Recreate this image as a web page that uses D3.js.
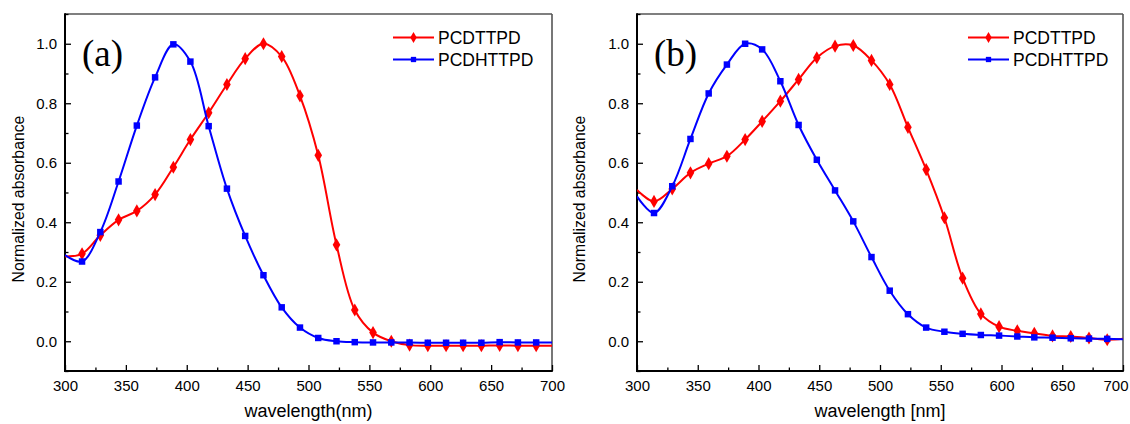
<!DOCTYPE html>
<html>
<head>
<meta charset="utf-8">
<script src="https://cdn.jsdelivr.net/npm/d3@7"></script>
<style>
  html, body { margin: 0; padding: 0; background: #fff; }
  svg { display: block; }
  text { font-family: Arial, "Liberation Sans", sans-serif; fill: #000; }
</style>
</head>
<body>
<svg id="chart" width="1130" height="424"></svg>
<script>
// Wavelengths (nm) at which the symbols are placed along each spectrum
const wavelengths = [314, 329, 344, 359, 374, 389, 403, 418, 433, 448, 463, 478, 493,
                     508, 523, 538, 553, 568, 583, 598, 613, 627, 642, 657, 672, 687];
// Spectrum end points (the traces run the full 300–700 nm window)
const edgeWavelengths = [300, 700];

// (a) normalized absorbance
const pcdttpdA  = [0.294, 0.356, 0.408, 0.438, 0.493, 0.585, 0.678, 0.768, 0.863, 0.950, 1.000, 0.957, 0.825,
                   0.625, 0.324, 0.105, 0.029, 0.000, -0.013, -0.015, -0.015, -0.015, -0.015, -0.014, -0.015, -0.015];
const pcdttpdAEdges = [0.285, -0.015];
const pcdhttpdA = [0.268, 0.367, 0.537, 0.725, 0.887, 0.998, 0.940, 0.723, 0.513, 0.354, 0.222, 0.114, 0.046,
                   0.011, 0.000, -0.003, -0.004, -0.004, -0.004, -0.005, -0.005, -0.005, -0.005, -0.003, -0.004, -0.004];
const pcdhttpdAEdges = [0.290, -0.004];

// (b) normalized absorbance
const pcdttpdB  = [0.470, 0.512, 0.566, 0.597, 0.622, 0.678, 0.739, 0.807, 0.880, 0.953, 0.992, 0.994, 0.944,
                   0.863, 0.719, 0.577, 0.415, 0.212, 0.092, 0.049, 0.035, 0.027, 0.018, 0.016, 0.011, 0.005];
const pcdttpdBEdges = [0.509, 0.008];
const pcdhttpdB = [0.431, 0.521, 0.680, 0.833, 0.930, 1.000, 0.981, 0.874, 0.727, 0.610, 0.507, 0.403, 0.283,
                   0.170, 0.091, 0.046, 0.032, 0.025, 0.021, 0.019, 0.016, 0.013, 0.012, 0.010, 0.009, 0.008];
const pcdhttpdBEdges = [0.487, 0.007];

const seriesNames = ["PCDTTPD", "PCDHTTPD"];
const seriesColors = ["#ff0000", "#0000ff"];
const seriesSymbols = [d3.symbolDiamond, d3.symbolSquare];

const xDomain = [300, 700];
const yDomain = [-0.1, 1.1];
const xMajorTicks = [300, 350, 400, 450, 500, 550, 600, 650, 700];
const xMinorTicks = [325, 375, 425, 475, 525, 575, 625, 675];
const yMajorTicks = [0.0, 0.2, 0.4, 0.6, 0.8, 1.0];
const yMinorTicks = [-0.1, 0.1, 0.3, 0.5, 0.7, 0.9, 1.1];

const panels = [
  { tag: "(a)", xTitle: "wavelength(nm)", left: 65, right: 552,
    series: [[pcdttpdA, pcdttpdAEdges], [pcdhttpdA, pcdhttpdAEdges]],
    legendX: 393, yTitleX: 18 },
  { tag: "(b)", xTitle: "wavelength [nm]", left: 637, right: 1123,
    series: [[pcdttpdB, pcdttpdBEdges], [pcdhttpdB, pcdhttpdBEdges]],
    legendX: 968, yTitleX: 579 }
];

const svg = d3.select("#chart");
const plotTop = 14, plotBottom = 371, pageWidth = 1130;

panels.forEach(p => {
  const x = d3.scaleLinear().domain(xDomain).range([p.left, p.right]);
  const y = d3.scaleLinear().domain(yDomain).range([plotBottom, plotTop]);
  const g = svg.append("g");

  // plot area frame: grey top/right, black left/bottom
  g.append("line").attr("x1", p.left).attr("x2", p.right).attr("y1", plotTop).attr("y2", plotTop)
    .attr("stroke", "#555").attr("stroke-width", 1.6);
  g.append("line").attr("x1", p.right).attr("x2", p.right).attr("y1", plotTop).attr("y2", plotBottom)
    .attr("stroke", "#555").attr("stroke-width", 1.6);

  // x axis (inward ticks)
  const xAxis = g.append("g").attr("transform", `translate(0,${plotBottom})`)
    .call(d3.axisBottom(x).tickValues(xMajorTicks).tickSize(-6).tickPadding(9).tickFormat(d3.format("d")));
  g.append("g").attr("transform", `translate(0,${plotBottom})`)
    .call(d3.axisBottom(x).tickValues(xMinorTicks).tickSize(-3.5).tickFormat(""))
    .call(s => s.select(".domain").remove());
  xAxis.select(".domain").remove();
  xAxis.selectAll("text").attr("font-size", 15).attr("fill", "#000")
    .style("font-family", "Arial, 'Liberation Sans', sans-serif");
  // keep the last label inside the page
  xAxis.selectAll("text").each(function () {
    const t = d3.select(this);
    const box = this.getBBox();
    const tickX = x(+t.datum());
    const overflow = tickX + box.width / 2 - (pageWidth - 2);
    if (overflow > 0) t.attr("x", -overflow);
  });

  // y axis (inward ticks)
  const yAxis = g.append("g").attr("transform", `translate(${p.left},0)`)
    .call(d3.axisLeft(y).tickValues(yMajorTicks).tickSize(-6).tickPadding(8).tickFormat(d3.format(".1f")));
  g.append("g").attr("transform", `translate(${p.left},0)`)
    .call(d3.axisLeft(y).tickValues(yMinorTicks).tickSize(-3.5).tickFormat(""))
    .call(s => s.select(".domain").remove());
  yAxis.select(".domain").remove();
  yAxis.selectAll("text").attr("font-size", 15).attr("fill", "#000")
    .style("font-family", "Arial, 'Liberation Sans', sans-serif");
  g.selectAll(".tick line").attr("stroke", "#000").attr("stroke-width", 1.3);

  g.append("line").attr("x1", p.left).attr("x2", p.left).attr("y1", plotTop - 0.8).attr("y2", plotBottom + 1)
    .attr("stroke", "#000").attr("stroke-width", 2);
  g.append("line").attr("x1", p.left - 1).attr("x2", p.right + 0.8).attr("y1", plotBottom).attr("y2", plotBottom)
    .attr("stroke", "#000").attr("stroke-width", 2);

  // axis titles
  g.append("text").attr("x", (p.left + p.right) / 2).attr("y", 417)
    .attr("text-anchor", "middle").attr("font-size", 18).text(p.xTitle);
  g.append("text").attr("transform", `translate(${p.yTitleX},199) rotate(-90)`)
    .attr("text-anchor", "middle").attr("dy", "0.35em").attr("font-size", 15.8).text("Normalized absorbance");

  // panel tag
  g.append("text").attr("x", p.left + 17).attr("y", 66)
    .style("font-family", "'Times New Roman', 'Liberation Serif', serif")
    .attr("font-size", 37).text(p.tag);

  // spectra
  const clip = "clip" + p.tag.replace(/\W/g, "");
  svg.append("clipPath").attr("id", clip).append("rect")
    .attr("x", p.left).attr("y", plotTop).attr("width", p.right - p.left).attr("height", plotBottom - plotTop);
  const line = d3.line().x(d => x(d[0])).y(d => y(d[1])).curve(d3.curveCatmullRom.alpha(0.5));

  p.series.forEach(([vals, edges], i) => {
    const pts = wavelengths.map((w, k) => [w, vals[k]]);
    const full = [[edgeWavelengths[0], edges[0]], ...pts, [edgeWavelengths[1], edges[1]]];
    const sg = g.append("g").attr("clip-path", `url(#${clip})`);
    sg.append("path").datum(full).attr("d", line)
      .attr("fill", "none").attr("stroke", seriesColors[i]).attr("stroke-width", 2);
    sg.selectAll("path.pt").data(pts).enter().append("path").attr("class", "pt")
      .attr("transform", d => `translate(${x(d[0])},${y(d[1])})`)
      .attr("d", d3.symbol().type(seriesSymbols[i]).size(i === 0 ? 50 : 42))
      .attr("fill", seriesColors[i]);
  });

  // legend
  seriesNames.forEach((name, i) => {
    const ly = 37.5 + i * 22;
    const lg = g.append("g");
    lg.append("line").attr("x1", p.legendX).attr("x2", p.legendX + 41).attr("y1", ly).attr("y2", ly)
      .attr("stroke", seriesColors[i]).attr("stroke-width", 2);
    lg.append("path").attr("transform", `translate(${p.legendX + 20.5},${ly})`)
      .attr("d", d3.symbol().type(seriesSymbols[i]).size(i === 0 ? 36 : 28))
      .attr("fill", seriesColors[i]);
    lg.append("text").attr("x", p.legendX + 45).attr("y", ly).attr("dy", "0.36em")
      .attr("font-size", 17.5).text(name);
  });
});
</script>
</body>
</html>
